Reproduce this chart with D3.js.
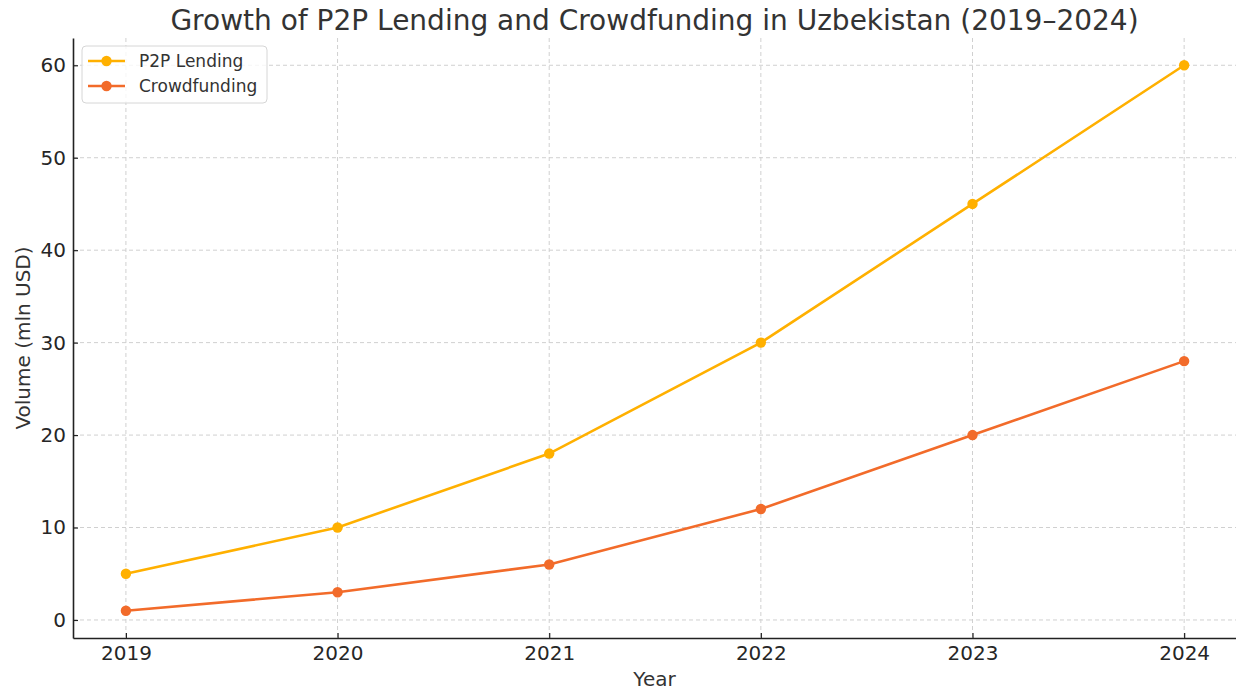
<!DOCTYPE html>
<html>
<head>
<meta charset="utf-8">
<script src="https://cdn.jsdelivr.net/npm/d3@7"></script>
<style>
  body { margin: 0; background: #fff; }
  svg { display: block; font-family: "DejaVu Sans", sans-serif; }
</style>
</head>
<body>
<div class="chart"></div>
<script>
const years = [2019, 2020, 2021, 2022, 2023, 2024];
const p2pLending = [5, 10, 18, 30, 45, 60];
const crowdfunding = [1, 3, 6, 12, 20, 28];
const yTicks = [0, 10, 20, 30, 40, 50, 60];

const series = [
    { name: "P2P Lending", values: p2pLending, color: "#ffb000" },
    { name: "Crowdfunding", values: crowdfunding, color: "#f26b2a" }
];

const width = 1236;
const height = 690;
const margin = { top: 38, right: 0, bottom: 52, left: 73 };

const svg = d3.select(".chart")
    .append("svg")
    .attr("width", width)
    .attr("height", height);

const x = d3.scaleLinear()
    .domain([2018.75, 2024.245])
    .range([margin.left, width - margin.right]);

const y = d3.scaleLinear()
    .domain([-1.95, 62.95])
    .range([height - margin.bottom, margin.top]);

// grid
svg.append("g")
    .selectAll("line")
    .data(years)
    .enter()
    .append("line")
    .attr("x1", d => x(d)).attr("x2", d => x(d))
    .attr("y1", margin.top).attr("y2", height - margin.bottom)
    .attr("stroke", "#d0d0d0")
    .attr("stroke-width", 1)
    .attr("stroke-dasharray", "4,3");

svg.append("g")
    .selectAll("line")
    .data(yTicks)
    .enter()
    .append("line")
    .attr("x1", margin.left).attr("x2", width - margin.right)
    .attr("y1", d => y(d)).attr("y2", d => y(d))
    .attr("stroke", "#d0d0d0")
    .attr("stroke-width", 1)
    .attr("stroke-dasharray", "4,3");

// axes
const xAxis = svg.append("g")
    .attr("transform", `translate(0,${height - margin.bottom})`)
    .call(d3.axisBottom(x).tickValues(years).tickFormat(d3.format("d"))
        .tickSizeInner(-5).tickSizeOuter(0).tickPadding(8));

const yAxis = svg.append("g")
    .attr("transform", `translate(${margin.left},0)`)
    .call(d3.axisLeft(y).tickValues(yTicks)
        .tickSizeInner(-5).tickSizeOuter(0).tickPadding(7));

[xAxis, yAxis].forEach(a => {
    a.select(".domain").attr("stroke", "#222").attr("stroke-width", 1.6);
    a.selectAll(".tick line").attr("stroke", "#222").attr("stroke-width", 1.2);
    a.selectAll(".tick text")
        .attr("fill", "#262626")
        .style("font-size", "20px")
        .style("font-family", "DejaVu Sans, sans-serif");
});

// lines
const line = d3.line()
    .x((d, i) => x(years[i]))
    .y(d => y(d));

series.forEach(s => {

    svg.append("path")
        .datum(s.values)
        .attr("fill", "none")
        .attr("stroke", s.color)
        .attr("stroke-width", 2.6)
        .attr("d", line);

    svg.append("g")
        .selectAll("circle")
        .data(s.values)
        .enter()
        .append("circle")
        .attr("cx", (d, i) => x(years[i]))
        .attr("cy", d => y(d))
        .attr("r", 5.2)
        .attr("fill", s.color);
});

// title and labels
svg.append("text")
    .attr("x", (margin.left + width - margin.right) / 2)
    .attr("y", 30)
    .attr("text-anchor", "middle")
    .attr("fill", "#333")
    .style("font-size", "28px")
    .text("Growth of P2P Lending and Crowdfunding in Uzbekistan (2019–2024)");

svg.append("text")
    .attr("x", (margin.left + width - margin.right) / 2)
    .attr("y", 686)
    .attr("text-anchor", "middle")
    .attr("fill", "#333")
    .style("font-size", "20px")
    .text("Year");

svg.append("text")
    .attr("transform", `translate(30,${(margin.top + height - margin.bottom) / 2}) rotate(-90)`)
    .attr("text-anchor", "middle")
    .attr("fill", "#333")
    .style("font-size", "20px")
    .text("Volume (mln USD)");

// legend
const legend = svg.append("g").attr("transform", "translate(82,46)");

legend.append("rect")
    .attr("width", 185)
    .attr("height", 57)
    .attr("rx", 4)
    .attr("fill", "white")
    .attr("fill-opacity", 0.8)
    .attr("stroke", "#d6d6d6");

series.forEach((s, i) => {
    const g = legend.append("g").attr("transform", `translate(0,${15 + i * 25})`);
    g.append("line")
        .attr("x1", 6).attr("x2", 43)
        .attr("stroke", s.color)
        .attr("stroke-width", 2.6);
    g.append("circle")
        .attr("cx", 24.5)
        .attr("r", 5.2)
        .attr("fill", s.color);
    g.append("text")
        .attr("x", 57)
        .attr("y", 6)
        .attr("fill", "#333")
        .style("font-size", "17px")
        .text(s.name);
});
</script>
</body>
</html>
